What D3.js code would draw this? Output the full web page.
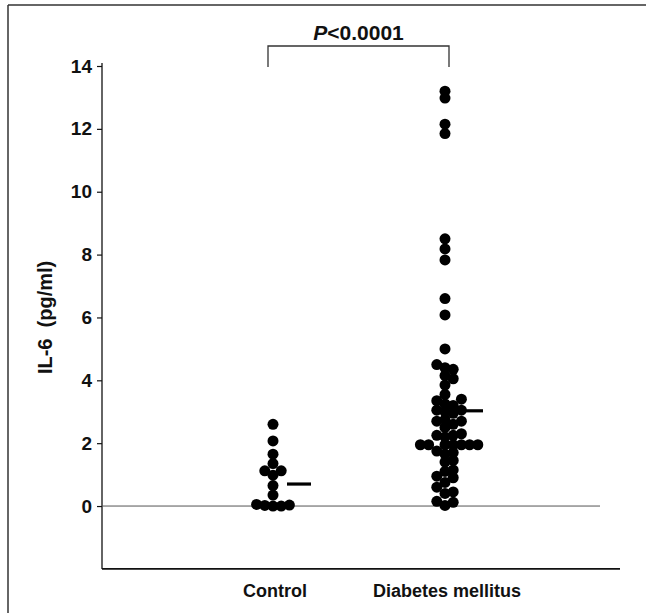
<!DOCTYPE html>
<html>
<head>
<meta charset="utf-8">
<script src="https://cdn.jsdelivr.net/npm/d3@7"></script>
<style>
  body { margin: 0; background: #fff; }
  text { font-family: "Liberation Sans", Arial, sans-serif; font-weight: bold; fill: #111; }
</style>
</head>
<body>
<div id="chart"></div>
<script>
const groups = ["Control", "Diabetes mellitus"];
const controlValues = [2.6, 2.07, 1.65, 1.35, 1.12, 1.12, 0.98, 0.65, 0.35, 0.05, 0.03, 0.02, 0.0, 0.0];
const diabetesValues = [
  13.2, 12.98, 12.15, 11.85, 8.5, 8.18, 7.83, 6.6, 6.08, 5.0,
  4.5, 4.4, 4.35, 4.15, 4.05, 3.85, 3.55, 3.4, 3.35, 3.25, 3.2,
  3.05, 3.05, 3.0, 2.95, 2.75, 2.7, 2.7, 2.6, 2.5,
  2.3, 2.25, 2.25, 2.2, 1.95, 1.95, 1.95, 1.95, 1.95, 1.95, 1.95,
  1.75, 1.7, 1.65, 1.45, 1.4, 1.15, 1.1, 0.95, 0.9, 0.75, 0.6,
  0.45, 0.4, 0.15, 0.12, 0.02
];
const means = [0.7, 3.03];
const yTicks = [0, 2, 4, 6, 8, 10, 12, 14];
const pLabel = "<0.0001";

const width = 646;
const height = 613;

const svg = d3.select("#chart").append("svg")
  .attr("width", width)
  .attr("height", height);

const y = d3.scaleLinear().domain([-2, 14]).range([568.9, 66]);
const x = d3.scalePoint().domain(groups).range([273, 445]);

// frame (top + left)
svg.append("line").attr("x1", 8).attr("x2", width).attr("y1", 5).attr("y2", 5)
  .attr("stroke", "#333").attr("stroke-width", 1.5);
svg.append("line").attr("x1", 8).attr("x2", 8).attr("y1", 5).attr("y2", height)
  .attr("stroke", "#333").attr("stroke-width", 1.5);

// y axis
const yAxis = svg.append("g")
  .attr("transform", "translate(102,0)")
  .call(d3.axisLeft(y).tickValues(yTicks).tickSize(5).tickSizeOuter(0).tickPadding(5));
yAxis.select(".domain").attr("stroke", "#111").attr("stroke-width", 1.3)
  .attr("d", "M0," + (y(14) - 3) + "V" + y(-2));
yAxis.selectAll(".tick line").attr("stroke", "#111").attr("stroke-width", 1.2);
yAxis.selectAll(".tick text").attr("font-size", 19).attr("font-family", "Liberation Sans, Arial, sans-serif")
  .attr("font-weight", "bold").attr("fill", "#111");

// zero line and bottom axis
svg.append("line").attr("x1", 102).attr("x2", 600).attr("y1", y(0)).attr("y2", y(0))
  .attr("stroke", "#555").attr("stroke-width", 1);
svg.append("line").attr("x1", 102).attr("x2", 620).attr("y1", y(-2)).attr("y2", y(-2))
  .attr("stroke", "#111").attr("stroke-width", 1.6);

// axis label
svg.append("text")
  .attr("transform", "translate(52," + y(6) + ") rotate(-90)")
  .attr("text-anchor", "middle")
  .attr("font-size", 20)
  .style("white-space", "pre")
  .text("IL-6  (pg/ml)");

// group labels
svg.selectAll(".glabel").data(groups).enter().append("text")
  .attr("class", "glabel")
  .attr("x", d => x(d) + 2)
  .attr("y", 597)
  .attr("text-anchor", "middle")
  .attr("font-size", 18)
  .text(d => d);

// simple beeswarm
const r = 5.5;
const step = 8.2;
const minDist = 6.8;
function swarm(values, cx) {
  const placed = [];
  const sorted = values.slice().sort((a, b) => a - b);
  sorted.forEach(v => {
    const cy = y(v);
    const cands = [0];
    for (let k = 1; k < 8; k++) { cands.push(k * step, -k * step); }
    let dx = 0;
    for (const c of cands) {
      const hit = placed.some(p => Math.hypot(p.x - (cx + c), p.y - cy) < minDist);
      if (!hit) { dx = c; break; }
    }
    placed.push({ x: cx + dx, y: cy, v: v });
  });
  return placed;
}

const allValues = [controlValues, diabetesValues];
allValues.forEach((vals, i) => {
  const pts = swarm(vals, x(groups[i]));
  svg.append("g").selectAll("circle").data(pts).enter().append("circle")
    .attr("cx", d => d.x)
    .attr("cy", d => d.y)
    .attr("r", r)
    .attr("fill", "#000");
});

// mean bars
svg.selectAll(".mean").data(means).enter().append("line")
  .attr("class", "mean")
  .attr("x1", (d, i) => x(groups[i]) + 14)
  .attr("x2", (d, i) => x(groups[i]) + 38)
  .attr("y1", d => y(d))
  .attr("y2", d => y(d))
  .attr("stroke", "#000")
  .attr("stroke-width", 3.2);

// significance bracket
const bx1 = x(groups[0]) - 5;
const bx2 = x(groups[1]) + 4;
svg.append("path")
  .attr("d", "M" + bx1 + ",67V46H" + bx2 + "V67")
  .attr("fill", "none")
  .attr("stroke", "#333")
  .attr("stroke-width", 1.3);

const pt = svg.append("text")
  .attr("x", (bx1 + bx2) / 2)
  .attr("y", 40)
  .attr("text-anchor", "middle")
  .attr("font-size", 21);
pt.append("tspan").attr("font-style", "italic").text("P");
pt.append("tspan").text(pLabel);
</script>
</body>
</html>
